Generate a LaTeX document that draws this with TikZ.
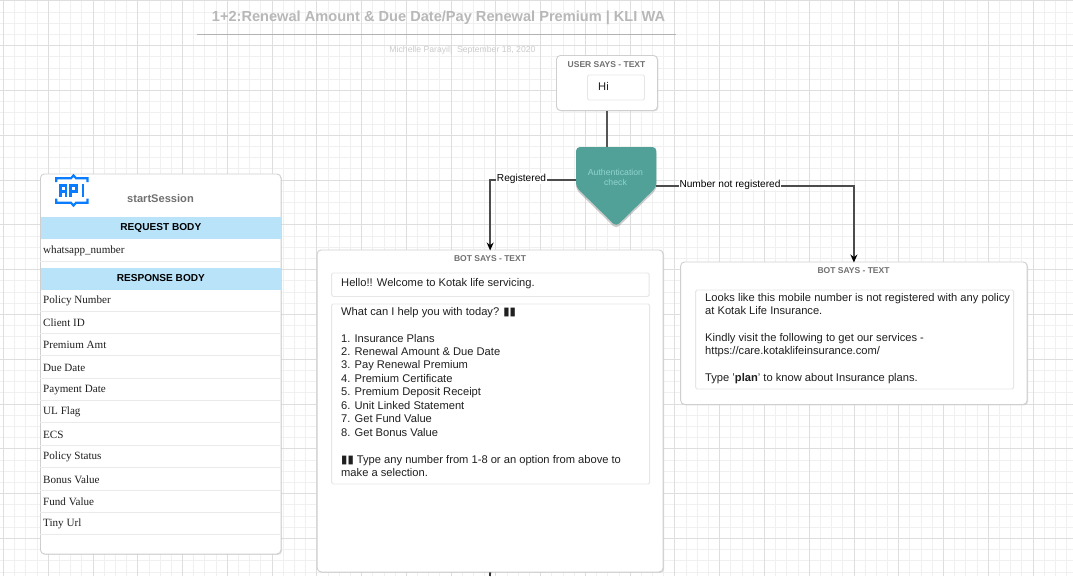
\documentclass[tikz,border=0pt]{standalone}
\usepackage{fontspec}
\setmainfont{Liberation Sans}
\newfontfamily\serifx{Liberation Serif}
\newfontfamily\symx{DejaVu Sans}
\newcommand\barsx{{\symx\fontsize{11.5}{13.45}\selectfont ▮▮}}
\usetikzlibrary{arrows.meta,shadows,calc}
\definecolor{gridmajor}{HTML}{DEDEDE}
\definecolor{gridminor}{HTML}{F0F0F0}
\definecolor{boxline}{HTML}{CFCFCF}
\definecolor{innerline}{HTML}{E6E6E6}
\definecolor{rowrule}{HTML}{EAEAEA}
\definecolor{headgray}{HTML}{707070}
\definecolor{teal}{HTML}{52A199}
\definecolor{tealtext}{HTML}{8FD5CC}
\definecolor{band}{HTML}{B9E3F9}
\definecolor{apiblue}{HTML}{0A7CFF}
\definecolor{wire}{HTML}{555555}
\tikzset{
  panel/.style={draw=boxline,line width=.9pt,fill=white,rounded corners=4pt,inner sep=0,anchor=north west,
    drop shadow={shadow xshift=1pt,shadow yshift=-1pt,fill=black!25,opacity=.5}},
  inner/.style={draw=innerline,line width=.9pt,fill=white,rounded corners=1.5pt,inner sep=0,anchor=north west},
  head/.style={font=\bfseries\fontsize{8.5}{10}\selectfont,text=headgray,inner sep=0},
  msg/.style={font=\fontsize{11.15}{13.45}\selectfont,text=black!88,inner sep=0,anchor=north west,align=left},
  rowtxt/.style={font=\serifx\fontsize{11.1}{12}\selectfont,text=black!88,inner sep=0,anchor=west},
  rowline/.style={draw=rowrule,line width=.9pt},
  bandbox/.style={fill=band,draw=none,inner sep=0,anchor=north west,minimum width=240.5pt,minimum height=22pt,
    font=\bfseries\fontsize{10.1}{11}\selectfont,text=black},
  wirepath/.style={draw=wire,line width=1.8pt},
  arrowpath/.style={draw=black!70,line width=1.6pt,-{Stealth[length=8pt,width=7pt,color=black]}},
  edgelabel/.style={fill=white,inner xsep=.5pt,inner ysep=.5pt,font=\fontsize{10.15}{12}\selectfont,text=black}
}
\begin{document}
\begin{tikzpicture}[x=1pt,y=-1pt]
\useasboundingbox (0,0) rectangle (1073,576);
\fill[white] (0,0) rectangle (1073,576);
% grid
\foreach \i in {0,...,96}{
  \draw[gridminor,line width=.9pt] ({3.5+11.19*\i},0) -- ({3.5+11.19*\i},576);}
\foreach \i in {0,...,51}{
  \draw[gridminor,line width=.9pt] (0,{0.8+11.2*\i}) -- (1073,{0.8+11.2*\i});}
\foreach \i in {0,...,24}{
  \draw[gridmajor,line width=.9pt] ({3.5+44.76*\i},0) -- ({3.5+44.76*\i},576);}
\foreach \i in {0,...,12}{
  \draw[gridmajor,line width=.9pt] (0,{0.8+44.8*\i}) -- (1073,{0.8+44.8*\i});}
% title
\node[inner sep=0,font=\bfseries\fontsize{14.6}{16}\selectfont,text=black!28] (title) at (438.5,18) {1+2:Renewal Amount \& Due Date/Pay Renewal Premium | KLI WA};
\coordinate (ruleL) at (197,34.5);
\coordinate (ruleR) at (676,34.5);
\draw[black!30,line width=.9pt] (ruleL) -- (ruleR);
\node[inner sep=0,font=\fontsize{8.65}{9}\selectfont,text=black!20] (byline) at (462.5,50.7) {Michelle Parayil|\ \ September 18, 2020};
% user
\node[panel,minimum width=101pt,minimum height=55pt] (user) at (556,55) {};
\node[head] (userh) at (606.5,64.5) {USER SAYS - TEXT};
\node[inner,minimum width=57pt,minimum height=25pt] (hibox) at (587,74.5) {};
\node[msg,anchor=west] (hi) at (598,86.2) {Hi};
% API panel
\node[panel,minimum width=240.5pt,minimum height=380pt] (api) at (40,173.5) {};
\node[inner sep=0,font=\bfseries\fontsize{11.1}{12}\selectfont,text=headgray] (apit) at (160.5,198.5) {startSession};
% icon
\begin{scope}[apiblue,line width=2.2pt,line cap=butt]
  \draw (56.3,182) -- (56.3,178.2) -- (71,178.2) -- (73.5,175.5) -- (76,178.2) -- (87.5,178.2) -- (87.5,182);
  \draw (56.3,198.5) -- (56.3,202.8) -- (71,202.8) -- (73.5,205.5) -- (76,202.8) -- (87.5,202.8) -- (87.5,198.5);
  \draw (60.5,196.7) -- (60.5,185.5) -- (66.3,185.5) -- (66.3,196.7) (60.5,191.5) -- (66.3,191.5);
  \draw (70.5,196.7) -- (70.5,185.5) -- (76.5,185.5) -- (76.5,191.5) -- (70.5,191.5);
  \draw (82.8,184.4) -- (82.8,196.7);
\end{scope}
\node[bandbox] (req) at (40.4,217) {REQUEST BODY};
\node[rowtxt] (r0) at (43,251.2) {whatsapp\_number};
\node[bandbox] (res) at (40.4,267.5) {RESPONSE BODY\vphantom{Q}};
\draw[rowline] (api.west |- 0,261.5) -- (api.east |- 0,261.5);
\foreach \n/\t/\yy in {r1/Policy Number/300,r2/Client ID/322,r3/Premium Amt/344.3,r4/Due Date/367,r5/Payment Date/389.3,r6/UL Flag/411.5,r7/ECS/434,r8/Policy Status/456.3,r9/Bonus Value/479,r10/Fund Value/501.3,r11/Tiny Url/523.5}{
  \node[rowtxt] (\n) at (43,\yy+0.8) {\t};
  \draw[rowline] (api.west |- 0,\yy+11.2) -- (api.east |- 0,\yy+11.2);
}
% bot 1
\node[panel,minimum width=346pt,minimum height=322pt] (bot) at (316.7,249.5) {};
\node[head] (both) at (490,258.5) {BOT SAYS - TEXT};
\node[inner,minimum width=317.5pt,minimum height=23.5pt] (hello) at (331.2,272.5) {};
\node[msg,anchor=west] (hellot) at (341,283.5) {Hello!! Welcome to Kotak life servicing.};
\node[inner,minimum width=318pt,minimum height=180pt] (menu) at (331.2,303.5) {};
\node[msg] (menut) at (341,306.9) {What can I help you with today? \barsx\\[13.45pt]
1. Insurance Plans\\
2. Renewal Amount \& Due Date\\
3. Pay Renewal Premium\\
4. Premium Certificate\\
5. Premium Deposit Receipt\\
6. Unit Linked Statement\\
7. Get Fund Value\\
8. Get Bonus Value\\[13.45pt]
\barsx{} Type any number from 1-8 or an option from above to\\
make a selection.};
% bot 2
\node[panel,minimum width=346.5pt,minimum height=142.5pt] (bot2) at (680.2,261.5) {};
\node[head] (bot2h) at (853.5,270.5) {BOT SAYS - TEXT};
\node[inner,minimum width=318pt,minimum height=99pt] (nr) at (695.2,289.5) {};
\node[msg] (nrt) at (705,292.8) {Looks like this mobile number is not registered with any policy\\
at Kotak Life Insurance.\\[13.45pt]
Kindly visit the following to get our services -\\
https://care.kotaklifeinsurance.com/\\[13.45pt]
Type '\textbf{plan}' to know about Insurance plans.};
% auth pentagon
\node[inner sep=0,minimum width=80pt,minimum height=79pt,anchor=north west] (auth) at (576,147) {};
\fill[teal,rounded corners=4pt,drop shadow={shadow xshift=0pt,shadow yshift=-2.5pt,fill=black!45,opacity=.45}]
  (auth.north west) -- (auth.north east) -- ($(auth.north east)+(0,40)$) -- (auth.south) -- ($(auth.north west)+(0,40)$) -- cycle;
\node[inner sep=0,font=\fontsize{8.7}{10}\selectfont,text=tealtext,align=center] (autht) at (615.5,177.5) {Authentication\\check};
% connectors
\draw[wirepath] (user.south) -- (user.south |- auth.north);
\coordinate (botout) at (490,576);
\draw[arrowpath] ([yshift=6.5pt]auth.west) -| ([yshift=-1pt]bot.north);
\node[edgelabel] (lreg) at (521.5,178.5) {Registered};
\draw[arrowpath] ([yshift=.5pt]auth.east) -| ([yshift=-1pt]bot2.north);
\node[edgelabel] (lnot) at (730,185) {Number not registered};
\draw[wirepath,black!80] (bot.south) -- (botout);
\end{tikzpicture}
\end{document}
